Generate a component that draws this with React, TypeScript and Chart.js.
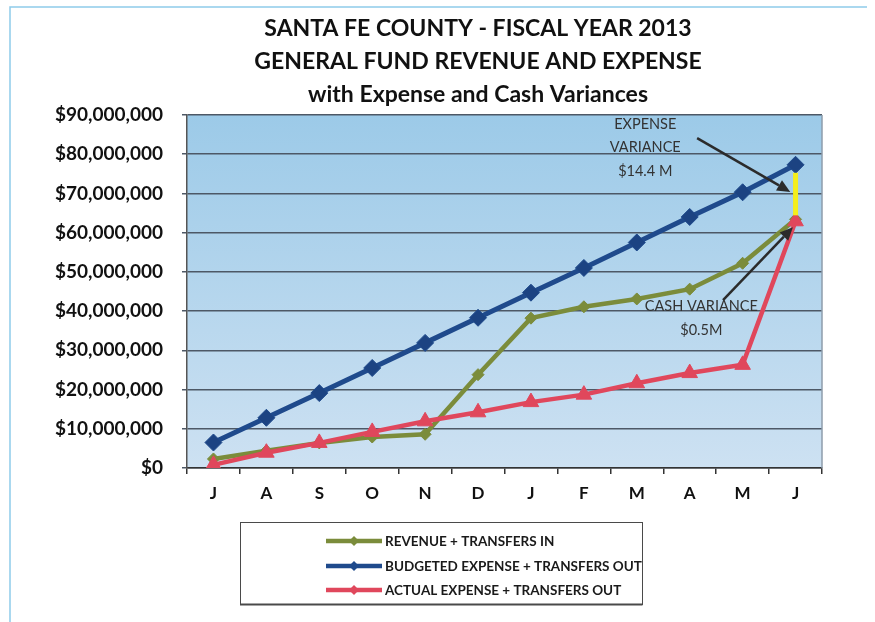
import React, { useEffect, useRef } from 'react';
import { Chart, registerables } from 'chart.js';

Chart.register(...registerables);

const months = ['J', 'A', 'S', 'O', 'N', 'D', 'J', 'F', 'M', 'A', 'M', 'J'];
const revenue = [2300000, 4400000, 6400000, 7900000, 8600000, 23800000, 38200000, 41100000, 43100000, 45600000, 52200000, 63400000];
const budgeted = [6500000, 12800000, 19100000, 25500000, 31900000, 38300000, 44700000, 51000000, 57500000, 64000000, 70300000, 77300000];
const actual = [800000, 3900000, 6400000, 9200000, 11900000, 14200000, 16800000, 18700000, 21600000, 24200000, 26300000, 62900000];
const seriesLabels = ['REVENUE + TRANSFERS IN', 'BUDGETED EXPENSE + TRANSFERS OUT', 'ACTUAL EXPENSE + TRANSFERS OUT'];
const titleLines = ['SANTA FE COUNTY - FISCAL YEAR 2013', 'GENERAL FUND REVENUE AND EXPENSE', 'with Expense and Cash Variances'];
const yTicks = [0, 10000000, 20000000, 30000000, 40000000, 50000000, 60000000, 70000000, 80000000, 90000000];
const expenseNote = ['EXPENSE', 'VARIANCE', '$14.4 M'];
const cashNote = ['CASH VARIANCE', '$0.5M'];

const FONT = 'Lato, "Open Sans", sans-serif';
const GREEN = '#7b8c3b';
const BLUE = '#1f4a8c';
const RED = '#e0475c';

const fmt = (v: number) => '$' + v.toLocaleString('en-US');

const backgroundPlugin = {
  id: 'bgPlugin',
  beforeDraw(chart: any) {
    const { ctx, chartArea: a, width, height } = chart;
    ctx.save();
    ctx.fillStyle = '#ffffff';
    ctx.fillRect(0, 0, width, height);
    ctx.strokeStyle = '#8fcbea';
    ctx.lineWidth = 1.5;
    ctx.beginPath();
    ctx.moveTo(10, height);
    ctx.lineTo(10, 7);
    ctx.lineTo(width - 8, 7);
    ctx.stroke();
    const g = ctx.createLinearGradient(0, a.top, 0, a.bottom);
    g.addColorStop(0, '#9ccae8');
    g.addColorStop(1, '#cde1f2');
    ctx.fillStyle = g;
    ctx.fillRect(a.left, a.top, a.right - a.left, a.bottom - a.top);
    // title
    ctx.fillStyle = '#111111';
    ctx.font = `bold 23px ${FONT}`;
    ctx.textAlign = 'center';
    ctx.textBaseline = 'middle';
    titleLines.forEach((t, i) => ctx.fillText(t, 478, 29 + i * 33));
    ctx.restore();
  },
};

function arrow(ctx: CanvasRenderingContext2D, x1: number, y1: number, x2: number, y2: number) {
  const ang = Math.atan2(y2 - y1, x2 - x1);
  const len = 13;
  const hw = 6;
  const bx = x2 - Math.cos(ang) * len;
  const by = y2 - Math.sin(ang) * len;
  ctx.beginPath();
  ctx.moveTo(x1, y1);
  ctx.lineTo(bx, by);
  ctx.stroke();
  ctx.beginPath();
  ctx.moveTo(x2, y2);
  ctx.lineTo(bx + Math.sin(ang) * hw, by - Math.cos(ang) * hw);
  ctx.lineTo(bx - Math.sin(ang) * hw, by + Math.cos(ang) * hw);
  ctx.closePath();
  ctx.fill();
}

const annotationPlugin = {
  id: 'notes',
  afterDatasetsDraw(chart: any) {
    const { ctx, chartArea: a } = chart;
    const xs = chart.scales.x;
    const ys = chart.scales.y;
    const X = (i: number) => xs.getPixelForValue(0) + (xs.getPixelForValue(1) - xs.getPixelForValue(0)) * i;
    const Y = (v: number) => ys.getPixelForValue(v);
    ctx.save();
    ctx.strokeStyle = '#8e9cab';
    ctx.lineWidth = 1.5;
    ctx.beginPath();
    ctx.moveTo(a.right, a.top);
    ctx.lineTo(a.right, a.bottom);
    ctx.stroke();
    const last = months.length - 1;
    ctx.strokeStyle = '#f4ee1c';
    ctx.lineWidth = 5;
    ctx.beginPath();
    ctx.moveTo(X(last), Y(budgeted[last]) + 8);
    ctx.lineTo(X(last), Y(revenue[last]) - 4);
    ctx.stroke();
    ctx.strokeStyle = '#2b2b2b';
    ctx.fillStyle = '#2b2b2b';
    ctx.lineWidth = 2.5;
    arrow(ctx, X(9.14), Y(84100000), X(10.9), Y(70400000));
    arrow(ctx, X(9.63), Y(42800000), X(10.95), Y(61400000));
    ctx.fillStyle = '#333333';
    ctx.font = `14.5px ${FONT}`;
    ctx.textAlign = 'center';
    ctx.textBaseline = 'middle';
    const ev = [87700000, 81800000, 75700000];
    expenseNote.forEach((t, i) => ctx.fillText(t, X(8.16), Y(ev[i])));
    const cv = [41300000, 35200000];
    cashNote.forEach((t, i) => ctx.fillText(t, X(9.22), Y(cv[i])));
    ctx.restore();
  },
};

const legendPlugin = {
  id: 'boxLegend',
  afterDraw(chart: any) {
    const { ctx } = chart;
    const box = { x: 240, y: 522, w: 402, h: 82 };
    ctx.save();
    ctx.fillStyle = '#ffffff';
    ctx.fillRect(box.x, box.y, box.w, box.h);
    ctx.strokeStyle = '#4a4a4a';
    ctx.lineWidth = 1;
    ctx.strokeRect(box.x + 0.5, box.y + 0.5, box.w, box.h);
    ctx.lineWidth = 2;
    ctx.beginPath();
    ctx.moveTo(box.x, box.y + box.h + 0.5);
    ctx.lineTo(box.x + box.w + 0.5, box.y + box.h + 0.5);
    ctx.stroke();
    const rowY = [541, 566, 590];
    chart.data.datasets.forEach((ds: any, i: number) => {
      const y = rowY[i];
      ctx.strokeStyle = ds.borderColor;
      ctx.lineWidth = 4.5;
      ctx.beginPath();
      ctx.moveTo(326, y);
      ctx.lineTo(382, y);
      ctx.stroke();
      ctx.fillStyle = ds.borderColor;
      ctx.beginPath();
      ctx.moveTo(354, y - 5);
      ctx.lineTo(359, y);
      ctx.lineTo(354, y + 5);
      ctx.lineTo(349, y);
      ctx.closePath();
      ctx.fill();
      ctx.fillStyle = '#1a1a1a';
      ctx.font = `bold 13.5px ${FONT}`;
      ctx.textAlign = 'left';
      ctx.textBaseline = 'middle';
      ctx.fillText(ds.label, 385, y + 1);
    });
    ctx.restore();
  },
};

export default function App() {
  const ref = useRef<HTMLCanvasElement | null>(null);
  useEffect(() => {
    if (!ref.current) return;
    const chart = new Chart(ref.current, {
      type: 'line',
      data: {
        labels: months,
        datasets: [
          {
            label: seriesLabels[0],
            data: revenue,
            borderColor: GREEN,
            backgroundColor: GREEN,
            borderWidth: 4.5,
            pointStyle: 'rectRot',
            pointRadius: 6,
            pointBorderWidth: 1,
            tension: 0,
            order: 1,
          },
          {
            label: seriesLabels[1],
            data: budgeted,
            borderColor: BLUE,
            backgroundColor: '#1c4382',
            borderWidth: 5,
            pointStyle: 'rectRot',
            pointRadius: 8.5,
            pointBorderWidth: 1,
            tension: 0,
            order: 2,
          },
          {
            label: seriesLabels[2],
            data: actual,
            borderColor: RED,
            backgroundColor: RED,
            borderWidth: 4.5,
            pointStyle: 'triangle',
            pointRadius: 9,
            pointBorderWidth: 1,
            tension: 0,
            order: 0,
          },
        ],
      },
      options: {
        animation: false,
        responsive: true,
        maintainAspectRatio: false,
        layout: { padding: { left: 0, right: 53, top: 115, bottom: 114 } },
        plugins: {
          legend: { display: false },
          tooltip: { enabled: false },
          title: { display: false },
        },
        scales: {
          x: {
            offset: true,
            grid: { offset: true, drawOnChartArea: false, drawTicks: true, tickLength: 6, color: '#333333', lineWidth: 1.5 },
            border: { color: '#333333', width: 1.5 },
            ticks: { color: '#111111', font: { family: FONT, size: 17, weight: 'bold' }, padding: 9, maxRotation: 0 },
            afterFit: (s: any) => { s.height = 40; },
          },
          y: {
            min: 0,
            max: 90000000,
            afterBuildTicks: (s: any) => { s.ticks = yTicks.map((v) => ({ value: v })); },
            grid: { color: '#4d5866', lineWidth: 1.5, tickLength: 5 },
            border: { color: '#555555', width: 1.5 },
            ticks: { color: '#111111', font: { family: FONT, size: 19, weight: 'bold' }, padding: 19, callback: (v: any) => fmt(Number(v)) },
            afterFit: (s: any) => { s.width = 187; },
          },
        },
      },
      plugins: [backgroundPlugin, annotationPlugin, legendPlugin],
    });
    return () => chart.destroy();
  }, []);
  return (
    <div style={{ position: 'fixed', left: 0, top: 0, width: 875, height: 622, background: '#fff' }}>
      <canvas ref={ref} />
    </div>
  );
}
